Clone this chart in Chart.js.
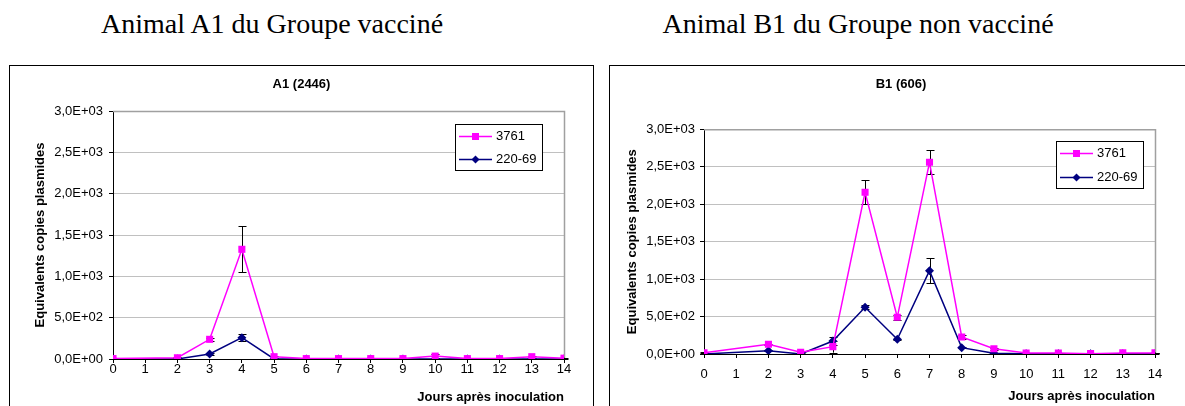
<!DOCTYPE html>
<html>
<head>
<meta charset="utf-8">
<script src="https://cdn.jsdelivr.net/npm/chart.js@4/dist/chart.umd.min.js"></script>
<style>
  html, body { margin: 0; padding: 0; background: #fff; overflow: hidden; width: 1185px; height: 406px; }
  .headline { position: absolute; top: 8px; font-family: "Liberation Serif", "Times New Roman", serif; font-size: 28px; color: #000; white-space: nowrap; transform: translateX(-50%); }
  .panel { position: absolute; top: 65px; height: 360px; border: 1px solid #000; box-sizing: border-box; }
  canvas { position: absolute; }
</style>
</head>
<body>
<div class="headline" id="h1" style="left:272px">Animal A1 du Groupe vacciné</div>
<div class="headline" id="h2" style="left:858px">Animal B1 du Groupe non vacciné</div>
<div class="panel" style="left:9px; width:585px"></div>
<div class="panel" style="left:609px; width:585px"></div>
<canvas id="c1" width="583" height="340" style="left:10px; top:66px"></canvas>
<canvas id="c2" width="582" height="340" style="left:610px; top:66px"></canvas>
<script>
// ---- data ----
const days = [0, 2, 3, 4, 5, 6, 7, 8, 9, 10, 11, 12, 13, 14];
const seriesNames = ['3761', '220-69'];
const yTicks = [0, 500, 1000, 1500, 2000, 2500, 3000];

const a1_3761     = [5, 15, 238, 1327, 28, 5, 5, 5, 5, 35, 5, 5, 28, 10];
const a1_3761_err = [0, 10, 15, 280, 10, 5, 5, 5, 5, 25, 5, 5, 10, 5];
const a1_22069     = [0, 0, 60, 258, 0, 0, 0, 0, 0, 0, 0, 0, 0, 0];
const a1_22069_err = [0, 0, 15, 42, 5, 0, 0, 0, 0, 0, 0, 0, 0, 0];

const b1_3761     = [17, 129, 22, 98, 2159, 490, 2559, 227, 70, 12, 12, 5, 15, 15];
const b1_3761_err = [10, 10, 10, 80, 160, 30, 160, 30, 10, 5, 5, 5, 5, 5];
const b1_22069     = [0, 44, 0, 173, 623, 196, 1112, 85, 9, 5, 5, 5, 5, 5];
const b1_22069_err = [5, 10, 5, 55, 25, 10, 165, 10, 5, 5, 5, 5, 5, 5];

Chart.defaults.font.family = '"Liberation Sans", Arial, sans-serif';
Chart.defaults.color = '#000';

function fmtE(v) {
  if (v === 0) return '0,0E+00';
  const e = Math.floor(Math.log10(Math.abs(v)) + 1e-9);
  const m = v / Math.pow(10, e);
  return m.toFixed(1).replace('.', ',') + 'E+' + String(e).padStart(2, '0');
}

const errorBars = {
  id: 'errorBars',
  beforeDatasetsDraw(chart) {
    const ctx = chart.ctx;
    const xs = chart.scales.x, ys = chart.scales.y;
    ctx.save();
    ctx.strokeStyle = '#000';
    ctx.lineWidth = 1;
    chart.data.datasets.forEach(ds => {
      ds.data.forEach((p, i) => {
        const err = ds.errors[i];
        if (!err) return;
        const x = Math.round(xs.getPixelForValue(p.x)) + 0.5;
        const y1 = ys.getPixelForValue(p.y + err);
        const y2 = ys.getPixelForValue(Math.max(0, p.y - err));
        ctx.beginPath();
        ctx.moveTo(x, y1); ctx.lineTo(x, y2);
        ctx.moveTo(x - 4, Math.round(y1) + 0.5); ctx.lineTo(x + 4, Math.round(y1) + 0.5);
        ctx.moveTo(x - 4, Math.round(y2) + 0.5); ctx.lineTo(x + 4, Math.round(y2) + 0.5);
        ctx.stroke();
      });
    });
    ctx.restore();
  }
};

const frame = {
  id: 'frame',
  beforeDatasetsDraw(chart) {
    const a = chart.chartArea, ctx = chart.ctx;
    ctx.save();
    ctx.strokeStyle = '#a0a0a0';
    ctx.lineWidth = 1.5;
    ctx.beginPath();
    ctx.moveTo(a.left, a.top + 0.5);
    ctx.lineTo(a.right + 0.5, a.top + 0.5);
    ctx.lineTo(a.right + 0.5, a.bottom);
    ctx.stroke();
    ctx.restore();
  }
};

const boxLegend = {
  id: 'boxLegend',
  afterDraw(chart, args, opts) {
    const a = chart.chartArea, ctx = chart.ctx;
    const x0 = a.right - opts.right - opts.width;
    const y0 = a.top + opts.top;
    ctx.save();
    ctx.fillStyle = '#fff';
    ctx.fillRect(x0, y0, opts.width, opts.height);
    ctx.strokeStyle = '#000';
    ctx.lineWidth = 1;
    ctx.strokeRect(Math.round(x0) + 0.5, Math.round(y0) + 0.5, opts.width, opts.height);
    ctx.font = '13px "Liberation Sans", Arial, sans-serif';
    ctx.textBaseline = 'middle';
    chart.data.datasets.forEach((ds, i) => {
      const cy = Math.round(y0 + opts.height * (i === 0 ? 0.25 : 0.75)) + 0.5;
      const lx = x0 + 4, lw = 33;
      ctx.strokeStyle = ds.borderColor;
      ctx.lineWidth = 1.5;
      ctx.beginPath(); ctx.moveTo(lx, cy); ctx.lineTo(lx + lw, cy); ctx.stroke();
      const mx = lx + lw / 2;
      ctx.fillStyle = ds.pointBackgroundColor;
      ctx.beginPath();
      if (ds.pointStyle === 'rect') {
        ctx.rect(mx - 3.5, cy - 3.5, 7, 7);
      } else {
        ctx.moveTo(mx - 4, cy); ctx.lineTo(mx, cy - 4); ctx.lineTo(mx + 4, cy); ctx.lineTo(mx, cy + 4); ctx.closePath();
      }
      ctx.fill();
      ctx.fillStyle = '#000';
      ctx.fillText(ds.label, lx + lw + 4, cy);
    });
    ctx.restore();
  }
};

function makeChart(id, title, s1, e1, s2, e2, L) {
  const mk = (vals) => days.map((d, i) => ({ x: d, y: vals[i] }));
  return new Chart(document.getElementById(id), {
    type: 'line',
    data: {
      datasets: [
        { label: seriesNames[0], data: mk(s1), errors: e1, borderColor: '#ff00ff', backgroundColor: '#ff00ff',
          pointBackgroundColor: '#ff00ff', pointBorderColor: '#ff00ff', pointStyle: 'rect', pointRadius: 5, pointBorderWidth: 0,
          borderWidth: 1.5, tension: 0 },
        { label: seriesNames[1], data: mk(s2), errors: e2, borderColor: '#000080', backgroundColor: '#000080',
          pointBackgroundColor: '#000080', pointBorderColor: '#000080', pointStyle: 'rectRot', pointRadius: 4.5, pointBorderWidth: 0,
          borderWidth: 1.5, tension: 0 }
      ]
    },
    options: {
      responsive: false,
      animation: false,
      events: [],
      layout: { padding: 0 },
      plugins: {
        legend: { display: false },
        tooltip: { enabled: false },
        title: { display: true, text: title, font: { size: 13, weight: 'bold' }, color: '#000',
                 padding: { top: L.titleTop, bottom: L.titleBottom } },
        boxLegend: L.legend
      },
      scales: {
        x: {
          type: 'linear', min: 0, max: 14,
          afterFit: s => { s.height = L.xHeight; },
          ticks: { stepSize: 1, autoSkip: false, font: { size: 13 }, color: '#000', padding: L.xPad, maxRotation: 0 },
          grid: { display: true, drawOnChartArea: false, drawTicks: true, tickLength: 4, tickColor: '#000' },
          border: { display: true, color: '#000', width: 1 },
          title: { display: true, text: 'Jours après inoculation', align: 'end', font: { size: 13, weight: 'bold' }, color: '#000',
                   padding: { top: 0, bottom: L.xTitlePad } }
        },
        y: {
          min: 0, max: 3000,
          afterFit: s => { s.width = L.yWidth; },
          afterBuildTicks: s => { s.ticks = yTicks.map(v => ({ value: v })); },
          ticks: { callback: v => fmtE(v), font: { size: 13 }, color: '#000', padding: L.yPad },
          grid: { color: '#c0c0c0', lineWidth: 1, drawTicks: true, tickLength: 4, tickColor: '#000' },
          border: { display: true, color: '#000', width: 1 },
          title: { display: true, text: 'Equivalents copies plasmides', font: { size: 13, weight: 'bold' }, color: '#000',
                   padding: { top: L.yTitlePad, bottom: 0 } }
        },
        yRightSpace: {
          position: 'right', display: true,
          afterFit: s => { s.width = L.padRight; },
          ticks: { display: false },
          grid: { display: false },
          border: { display: false },
          title: { display: false }
        }
      }
    },
    plugins: [frame, errorBars, boxLegend]
  });
}

makeChart('c1', 'A1 (2446)', a1_3761, a1_3761_err, a1_22069, a1_22069_err, {
  padRight: 29, titleTop: 10.2, titleBottom: 19.2, xHeight: 47, xPad: -1, xTitlePad: 1.2,
  yWidth: 103, yPad: 6, yTitlePad: 22.2,
  legend: { right: 22, top: 13, width: 87, height: 46 }
});
makeChart('c2', 'B1 (606)', b1_3761, b1_3761_err, b1_22069, b1_22069_err, {
  padRight: 37, titleTop: 10.2, titleBottom: 37.5, xHeight: 52, xPad: 8.2, xTitlePad: 2.2,
  yWidth: 94, yPad: 5, yTitlePad: 14.2,
  legend: { right: 12, top: 12, width: 87, height: 47 }
});
</script>
</body>
</html>
